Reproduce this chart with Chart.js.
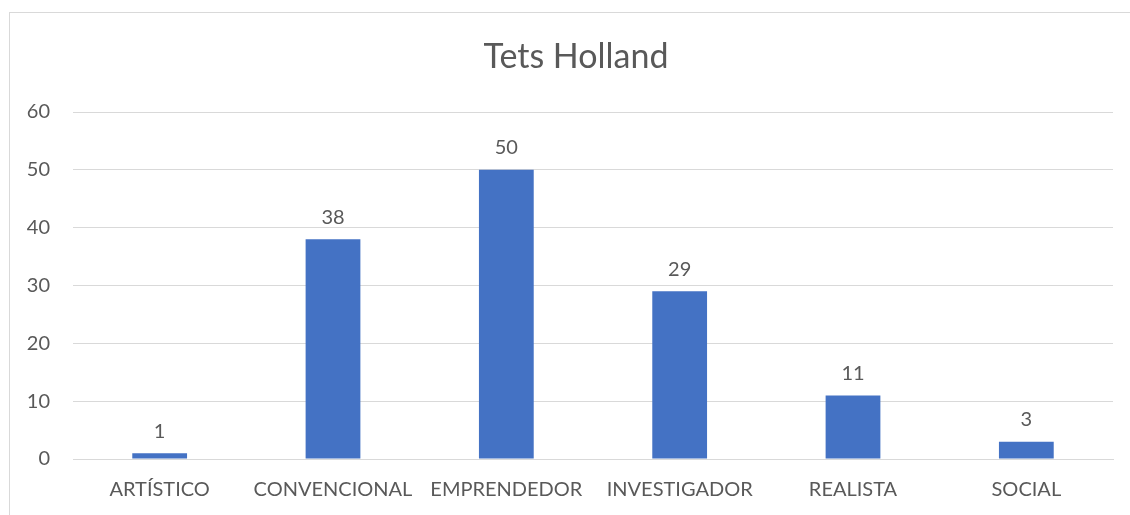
<!DOCTYPE html>
<html>
<head>
<meta charset="utf-8">
<script src="https://cdn.jsdelivr.net/npm/chart.js@4/dist/chart.umd.min.js"></script>
<style>
    html, body { margin: 0; padding: 0; background: #fff; overflow: hidden; }
    #marco {
        position: absolute; left: 9px; top: 12px;
        width: 1140px; height: 520px;
        border: 1px solid #d9d9d9; box-sizing: border-box;
    }
    #caja { position: absolute; left: 0; top: 0; width: 1130px; height: 515px; }
</style>
</head>
<body>
<div id="marco"></div>
<div id="caja"><canvas id="grafico"></canvas></div>
<script>
const categorias = ['ARTÍSTICO', 'CONVENCIONAL', 'EMPRENDEDOR', 'INVESTIGADOR', 'REALISTA', 'SOCIAL'];
const valores = [1, 38, 50, 29, 11, 3];
const titulo = 'Tets Holland';

const fuente = 'Lato, "Noto Sans", sans-serif';
const gris = '#595959';

// etiquetas de valor encima de cada barra
const etiquetasValor = {
    id: 'etiquetasValor',
    afterDatasetsDraw(chart) {
        const c = chart.ctx;
        const meta = chart.getDatasetMeta(0);
        c.save();
        c.font = '20px ' + fuente;
        c.fillStyle = gris;
        c.textAlign = 'center';
        c.textBaseline = 'bottom';
        meta.data.forEach((barra, i) => {
            c.fillText(String(valores[i]), barra.x, barra.y - 12);
        });
        c.restore();
    }
};

// el título va centrado en todo el marco, no sólo sobre el área de barras
const tituloMarco = {
    id: 'tituloMarco',
    afterDraw(chart) {
        const c = chart.ctx;
        c.save();
        c.font = '34px ' + fuente;
        c.fillStyle = gris;
        c.textAlign = 'center';
        c.textBaseline = 'middle';
        c.fillText(titulo, 576, 57);
        c.restore();
    }
};

new Chart(document.getElementById('grafico').getContext('2d'), {
    type: 'bar',
    data: {
        labels: categorias,
        datasets: [{
            data: valores,
            backgroundColor: '#4472C4',
            categoryPercentage: 1,
            barPercentage: 0.316
        }]
    },
    options: {
        responsive: true,
        maintainAspectRatio: false,
        animation: false,
        layout: { padding: { left: 0, right: 17, top: 112, bottom: 0 } },
        plugins: {
            legend: { display: false },
            tooltip: { enabled: false },
            title: { display: false }
        },
        scales: {
            x: {
                grid: { display: false, drawTicks: false },
                border: { color: '#d9d9d9', width: 1 },
                ticks: { color: gris, font: { family: fuente, size: 20 }, padding: 19, maxRotation: 0 },
                afterFit(s) { s.height = 56; }
            },
            y: {
                min: 0,
                max: 60,
                grid: { color: '#d9d9d9', drawTicks: false },
                border: { display: false },
                ticks: { stepSize: 10, color: gris, font: { family: fuente, size: 20 }, padding: 23 },
                afterFit(s) { s.width = 73; }
            }
        }
    },
    plugins: [etiquetasValor, tituloMarco]
});
</script>
</body>
</html>
